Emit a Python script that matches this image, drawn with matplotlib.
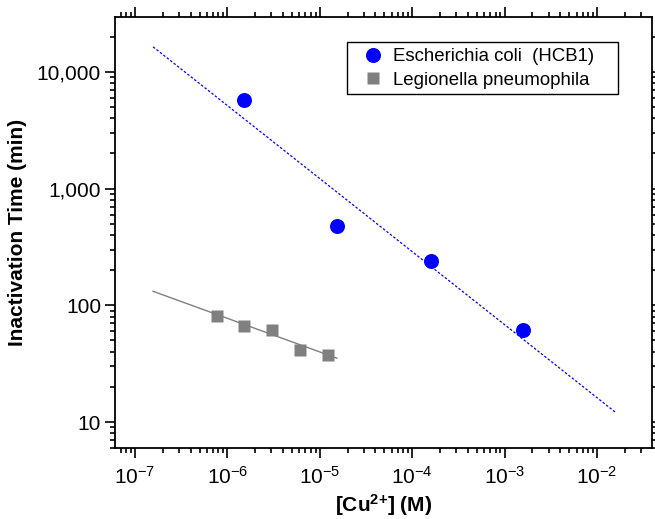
import math
import matplotlib
matplotlib.use("Agg")
import matplotlib.pyplot as plt
from matplotlib.ticker import LogLocator, FuncFormatter, NullFormatter
from matplotlib.patches import Rectangle

plt.rcParams['font.family'] = ['Liberation Sans', 'DejaVu Sans']
plt.rcParams['mathtext.fontset'] = 'custom'
plt.rcParams['mathtext.rm'] = 'Liberation Sans'
plt.rcParams['mathtext.it'] = 'Liberation Sans:italic'
plt.rcParams['mathtext.bf'] = 'Liberation Sans:bold'

# Data
ecoli_cu = [1.53e-6, 1.53e-5, 1.6e-4, 1.57e-3]
ecoli_time = [5760, 483, 242, 61]
ecoli_fit_cu = [1.57e-7, 1.57e-2]
ecoli_fit_time = [16400, 12.2]

legio_cu = [7.8e-7, 1.53e-6, 3.06e-6, 6.15e-6, 1.22e-5]
legio_time = [80.6, 66.6, 61.5, 41.2, 37.4]
legio_fit_cu = [1.57e-7, 1.53e-5]
legio_fit_time = [132, 35.3]

labels = ["Escherichia coli  (HCB1)", "Legionella pneumophila"]

fig = plt.figure(figsize=(6.55, 5.19), dpi=100)
ax = fig.add_axes([115/655, 1-448/519, 537/655, (448-16.7)/519])

ax.plot(ecoli_fit_cu, ecoli_fit_time, color='blue', lw=0.9, linestyle=(0, (2, 1.5)))
ax.plot(legio_fit_cu, legio_fit_time, color='#808080', lw=1.0)
ax.plot(ecoli_cu, ecoli_time, 'o', color='blue', ms=10.8, mec='none', label=labels[0])
ax.plot(legio_cu, legio_time, 's', color='#808080', ms=8.2, mec='none', label=labels[1])

ax.set_xscale('log')
ax.set_yscale('log')
ax.set_xlim(10**-7.216, 10**-1.405)
ax.set_ylim(10**0.778, 10**4.473)

ax.xaxis.set_major_locator(LogLocator(base=10, numticks=20))
ax.xaxis.set_minor_locator(LogLocator(base=10, subs=range(2, 10), numticks=20))
ax.yaxis.set_major_locator(LogLocator(base=10, numticks=20))
ax.yaxis.set_minor_locator(LogLocator(base=10, subs=range(2, 10), numticks=20))

def xfmt(v, pos):
    e = int(round(math.log10(v)))
    return r'$10^{%d}$' % e
ax.xaxis.set_major_formatter(FuncFormatter(xfmt))
ax.yaxis.set_major_formatter(FuncFormatter(lambda v, p: '{:,.0f}'.format(v)))
ax.xaxis.set_minor_formatter(NullFormatter())
ax.yaxis.set_minor_formatter(NullFormatter())

ax.tick_params(which='both', direction='out', top=True, right=True, width=1.2, colors='black')
ax.tick_params(which='major', length=7, labelsize=15, pad=3)
ax.tick_params(which='minor', length=3.5)
ax.tick_params(axis='x', which='major', pad=6)
for s in ax.spines.values():
    s.set_linewidth(1.3)

ax.set_ylabel('Inactivation Time (min)', fontsize=15, fontweight='bold', labelpad=7)
ax.set_xlabel(r'[Cu$^{\mathbf{2{+}}}$] (M)', fontsize=15, fontweight='bold', labelpad=3)

# legend frame drawn separately
x0 = (347-115)/537; x1 = (618-115)/537
y0 = (448-94)/431.3; y1 = (448-42)/431.3
ax.add_patch(Rectangle((x0, y0), x1-x0, y1-y0, transform=ax.transAxes,
                       facecolor='white', edgecolor='black', lw=1.0, zorder=4))
leg = ax.legend(loc='center left', bbox_to_anchor=((363.7-115)/537, (448-68.5)/431.3),
                borderaxespad=0, borderpad=0, frameon=False, fontsize=13.4,
                handletextpad=0.575, labelspacing=0.35, handlelength=1.0)
leg.set_zorder(5)

fig.savefig('out.png', dpi=100)
